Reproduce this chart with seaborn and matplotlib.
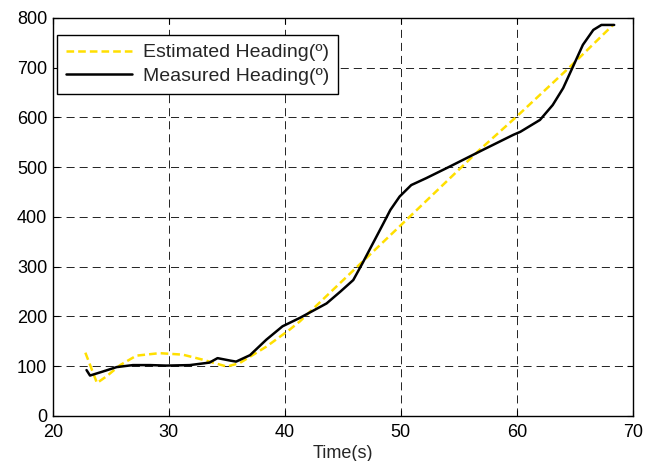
import numpy as np
import pandas as pd
import matplotlib
matplotlib.use("Agg")
import matplotlib.pyplot as plt
import seaborn as sns

# measured heading (black)
meas_t = [22.9, 23.2, 24.3, 25.5, 26.9, 28.4, 29.8, 31.8, 33.5, 34.2, 35.3, 35.8,
          37.0, 38.4, 39.8, 41.3, 43.6, 44.8, 45.9, 46.7, 47.6, 48.5, 49.1, 49.9,
          50.9, 52.2, 54.2, 57.1, 59.7, 60.3, 62.0, 63.1, 64.0, 64.9, 65.7, 66.6,
          67.3, 68.4]
meas_h = [92, 81, 89, 98, 102, 102, 101, 102, 107, 116, 111, 109,
          122, 153, 180, 197, 226, 250, 273, 307, 347, 387, 414, 441,
          464, 478, 501, 535, 565, 571, 595, 625, 659, 705, 746, 776,
          786, 786]

# estimated heading (yellow dashed)
est_t = [22.8, 23.8, 24.6, 25.8, 27.2, 29.2, 31.2, 32.9, 35.0, 36.1, 38.4, 40.4,
         41.3, 46.7, 49.9, 56.8, 60.0, 64.6, 68.3]
est_h = [127, 66, 79, 102, 121, 126, 123, 113, 99, 106, 139, 173,
         190, 310, 381, 535, 602, 702, 786]

sns.set_style("ticks")
plt.rcParams['font.family'] = ['Liberation Sans', 'DejaVu Sans']
plt.rcParams['font.size'] = 13
plt.rcParams['lines.scale_dashes'] = False

fig = plt.figure(figsize=(6.45, 4.61), dpi=100)
ax = fig.add_axes([0.082, 0.098, 0.899, 0.863])

est = pd.DataFrame({'t': est_t, 'h': est_h})
meas = pd.DataFrame({'t': meas_t, 'h': meas_h})

sns.lineplot(data=est, x='t', y='h', ax=ax, color='#ffdf00', lw=1.8,
             linestyle=(0, (5.5, 2.9)), label='Estimated Heading(\u00ba)')
sns.lineplot(data=meas, x='t', y='h', ax=ax, color='black', lw=1.8,
             label='Measured Heading(\u00ba)')

ax.set_xlim(20, 70)
ax.set_ylim(0, 800)
ax.set_xticks(range(20, 71, 10))
ax.set_yticks(range(0, 801, 100))
ax.grid(True, color='#222222', linestyle=(0, (5.8, 3.6)), lw=0.7)
ax.tick_params(direction='in', top=True, right=True, length=4, colors='black',
               labelsize=13, pad=4)
ax.tick_params(axis='x', pad=6)
for s in ax.spines.values():
    s.set_visible(True)
    s.set_color('black')
    s.set_linewidth(1.0)
ax.set_xlabel('Time(s)', fontsize=13, labelpad=3)
ax.set_ylabel('')

leg = ax.legend(loc='upper left', bbox_to_anchor=(0.007, 0.957), borderaxespad=0,
                fancybox=False, framealpha=1, edgecolor='black', fontsize=14,
                handlelength=3.4, handletextpad=0.55, borderpad=0.45,
                labelspacing=0.32)
leg.get_frame().set_linewidth(1.0)

fig.savefig('out.png', dpi=100)
